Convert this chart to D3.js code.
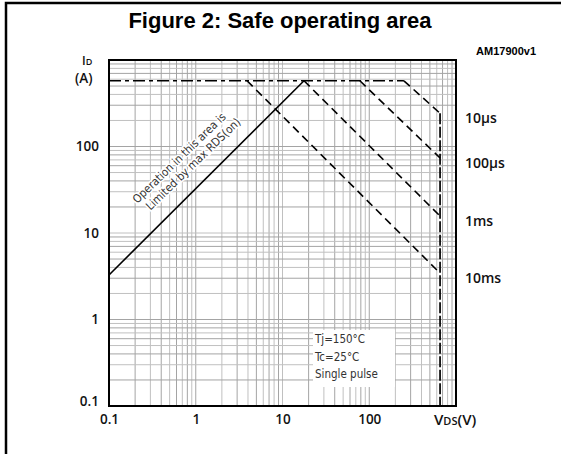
<!DOCTYPE html>
<html>
<head>
<meta charset="utf-8">
<script src="https://cdn.jsdelivr.net/npm/d3@7"></script>
<style>
  body { margin: 0; background: #fff; }
  .tick text { font-family: "Open Sans", sans-serif; font-weight: 600; font-size: 13.5px; fill: #111; }
  .lbl { font-family: "Open Sans", sans-serif; font-weight: 600; fill: #111; }
  .note { font-family: "DejaVu Sans Condensed", "DejaVu Sans", sans-serif; font-size: 11px; fill: #333; }
</style>
</head>
<body>
<script>
// values
const vdsTicks = [0.1, 1, 10, 100]
const idTicks = [0.1, 1, 10, 100]
const idMax = 575          // A, top limit
const bvdss = 655          // V, vertical limit
const rdsLine = [[0.1, 3.27], [17.7, 575]]   // limited by RDS(on)
const pulseNames = ['10µs', '100µs', '1ms', '10ms']
const pulseStartV = [251, 78, 17.7, 3.9]     // where each curve leaves the top line
const pulseEndI = [242, 73.6, 15.7, 3.43]    // current where it meets VDS = bvdss
const notes = ['Tj=150°C', 'Tc=25°C', 'Single pulse']

const width = 561, height = 454

let svg = d3.select('body').append('svg')
    .attr('width', width)
    .attr('height', height)

// outer frame (only top and left visible in the crop)
svg.append('path')
    .attr('d', `M6,${height} L6,3 L${width},3`)
    .attr('fill', 'none')
    .attr('stroke', '#000')
    .attr('stroke-width', 2.5)

let x = d3.scaleLog().domain([0.1, 1000]).range([109, 456])
let y = d3.scaleLog().domain([0.1, 1000]).range([406, 60])

// grid
let grid = svg.append('g').attr('class', 'grid')
grid.selectAll('.vg')
  .data(x.ticks())
  .join('line')
    .attr('x1', d => x(d)).attr('x2', d => x(d))
    .attr('y1', y.range()[0]).attr('y2', y.range()[1])
    .attr('stroke', (d, i) => i % 2 ? '#a4a4a4' : '#c0c0c0')
    .attr('stroke-width', 1)
grid.selectAll('.hg')
  .data(y.ticks())
  .join('line')
    .attr('y1', d => y(d)).attr('y2', d => y(d))
    .attr('x1', x.range()[0]).attr('x2', x.range()[1])
    .attr('stroke', (d, i) => i % 2 ? '#a4a4a4' : '#c0c0c0')
    .attr('stroke-width', 1)

// white box behind notes
svg.append('rect')
    .attr('x', 313).attr('y', 330)
    .attr('width', 82).attr('height', 57)
    .attr('fill', '#fff')

svg.selectAll('.note')
  .data(notes)
  .join('text')
    .attr('class', 'note')
    .attr('x', 315)
    .attr('y', (d, i) => 343 + i * 17.5)
    .style('font-size', '11.5px')
    .text(d => d)

let line = d3.line().x(d => x(d[0])).y(d => y(d[1]))

// rotated annotation
let ann = svg.append('g')
    .attr('transform', 'translate(184,163) rotate(-44)')
ann.selectAll('text')
  .data(['Operation in this area is', 'Limited by max RDS(on)'])
  .join('text')
    .attr('class', 'note')
    .attr('text-anchor', 'middle')
    .attr('x', (d, i) => i * 6)
    .attr('y', (d, i) => -3 + i * 14)
    .attr('stroke', '#fff')
    .attr('stroke-width', 3)
    .attr('paint-order', 'stroke')
    .style('font-size', '11.5px')
    .text(d => d)

// top current limit, dash-dot
svg.append('path')
    .attr('d', line([[0.1, idMax], [pulseStartV[0], idMax]]))
    .attr('fill', 'none')
    .attr('stroke', '#000')
    .attr('stroke-width', 1.6)
    .attr('stroke-dasharray', '12,4,4,4')

// pulse curves
pulseNames.forEach((name, i) => {
  svg.append('path')
      .attr('d', line([[pulseStartV[i], idMax], [bvdss, pulseEndI[i]]]))
      .attr('fill', 'none')
      .attr('stroke', '#000')
      .attr('stroke-width', 1.6)
      .attr('stroke-dasharray', '8,5')
  svg.append('text')
      .attr('class', 'lbl')
      .attr('x', 465)
      .attr('y', y(pulseEndI[i]) + 5)
      .attr('dy', '0.35em')
      .style('font-size', '14px')
      .text(name)
})

// breakdown limit
svg.append('path')
    .attr('d', line([[bvdss, pulseEndI[0]], [bvdss, 0.1]]))
    .attr('fill', 'none')
    .attr('stroke', '#000')
    .attr('stroke-width', 1.7)
    .attr('stroke-dasharray', '11,2.5')

// RDS(on) limit
svg.append('path')
    .attr('d', line(rdsLine))
    .attr('fill', 'none')
    .attr('stroke', '#000')
    .attr('stroke-width', 1.6)

// frame
svg.append('rect')
    .attr('x', 109).attr('y', 60)
    .attr('width', 347).attr('height', 346)
    .attr('fill', 'none')
    .attr('stroke', '#000')
    .attr('stroke-width', 2)

// axes
let fmt = d3.format('~g')
let yAxis = svg.append('g')
    .attr('transform', 'translate(109,0)')
    .call(d3.axisLeft(y).tickValues(idTicks).tickSize(0).tickPadding(10).tickFormat(fmt))
yAxis.select('.domain').remove()
yAxis.selectAll('.tick text').filter(d => d === 0.1).attr('dy', '-0.05em')

let xAxis = svg.append('g')
    .attr('transform', 'translate(0,406)')
    .call(d3.axisBottom(x).tickValues(vdsTicks).tickSize(0).tickPadding(8).tickFormat(fmt))
xAxis.select('.domain').remove()

// axis titles
let idLab = svg.append('text').attr('class', 'lbl').attr('x', 82).attr('y', 65).style('font-size', '12px')
idLab.append('tspan').text('I')
idLab.append('tspan').style('font-size', '9px').text('D')
svg.append('text').attr('class', 'lbl').attr('x', 75).attr('y', 83).style('font-size', '13.5px').text('(A)')

let vLab = svg.append('text').attr('class', 'lbl').attr('x', 434).attr('y', 425).style('font-size', '15px')
vLab.append('tspan').text('V')
vLab.append('tspan').style('font-size', '11px').text('DS')
vLab.append('tspan').text('(V)')

// title
svg.append('text')
    .attr('x', 280).attr('y', 28)
    .attr('text-anchor', 'middle')
    .style('font-family', 'Liberation Sans, Arial, sans-serif')
    .style('font-weight', 'bold')
    .style('font-size', '22px')
    .text('Figure 2: Safe operating area')

svg.append('text')
    .attr('x', 536).attr('y', 55)
    .attr('text-anchor', 'end')
    .style('font-family', 'Liberation Sans, Arial, sans-serif')
    .style('font-weight', 'bold')
    .style('font-size', '11px')
    .text('AM17900v1')
</script>
</body>
</html>
